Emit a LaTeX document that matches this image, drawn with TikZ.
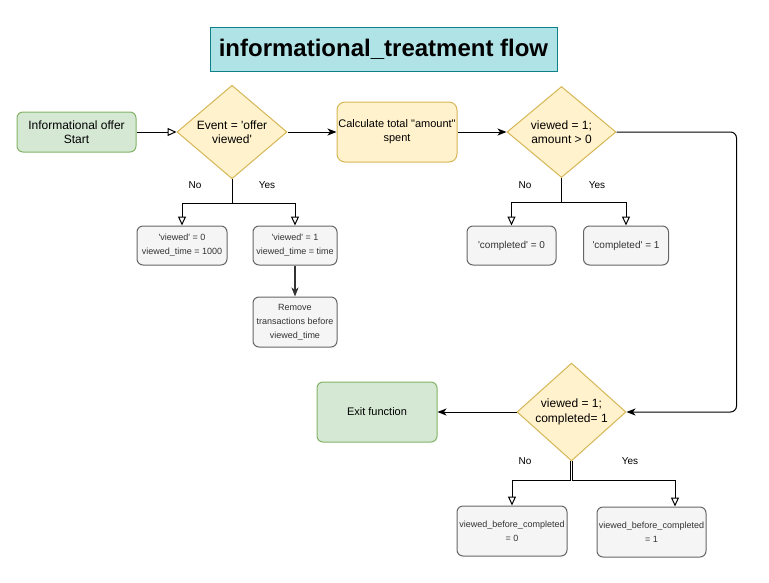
\documentclass[tikz,border=0pt]{standalone}
\usepackage{fontspec}
\setmainfont{Liberation Sans}[Ligatures=TeXOff]
\usetikzlibrary{arrows.meta,shapes.geometric}
\definecolor{greenfill}{HTML}{D5E8D4}
\definecolor{greenline}{HTML}{82B366}
\definecolor{yellowfill}{HTML}{FFF2CC}
\definecolor{yellowline}{HTML}{D6B656}
\definecolor{grayfill}{HTML}{F5F5F5}
\definecolor{grayline}{HTML}{666666}
\definecolor{graytext}{HTML}{333333}
\definecolor{titlefill}{HTML}{B0E3E6}
\definecolor{titleline}{HTML}{0E8088}
\begin{document}
\begin{tikzpicture}[x=1pt,y=-1pt,line width=1pt,
  greenbox/.style={draw=greenline,fill=greenfill,rounded corners=6pt,align=center,
    minimum width=120pt,font=\fontsize{12}{14.3}\selectfont},
  yellowbox/.style={draw=yellowline,fill=yellowfill,rounded corners=8pt,align=center,
    minimum width=120pt,minimum height=60pt,inner sep=1pt,font=\fontsize{11}{14.3}\selectfont},
  decision/.style={diamond,draw=yellowline,fill=yellowfill,align=center,inner sep=0pt,
    minimum width=109pt,minimum height=91pt,font=\fontsize{12}{14.3}\selectfont},
  graybox/.style={draw=grayline,fill=grayfill,text=graytext,rounded corners=6pt,align=center,
    minimum height=39pt,inner sep=1pt,font=\fontsize{9}{14}\selectfont},
  branch/.style={font=\fontsize{10}{12}\selectfont},
  openarrow/.style={-{Triangle[open,length=9pt,width=8pt]},fill=white},
  solidarrow/.style={-{Stealth[length=9pt,width=7pt,inset=2.5pt]}}]
\useasboundingbox (0,0) rectangle (769,582);

% title
\node[draw=titleline,fill=titlefill,minimum width=347pt,minimum height=44pt,
  font=\fontsize{24}{28}\bfseries] (title) at (383.5,49) {informational\_treatment flow};

% top row
\node[greenbox,minimum width=119pt,minimum height=40pt] (start) at (76.5,132) {Informational offer\\Start};
\node[decision,minimum width=110pt] (event) at (232,132) {Event = 'offer\\viewed'};
\node[yellowbox] (calc) at (397,132) {Calculate total "amount"\\spent};
\node[decision] (amount) at (561.5,132) {viewed = 1;\\amount {\textgreater} 0};

% viewed branches
\node[graybox,minimum width=90pt] (viewed0) at (182,245.5) {'viewed' = 0\\viewed\_time = 1000};
\node[graybox,minimum width=84pt] (viewed1) at (295,245.5) {'viewed' = 1\\viewed\_time = time};
\node[graybox,minimum width=84pt,minimum height=50pt] (remove) at (295,322)
  {Remove\\transactions before\\viewed\_time};
\node[branch] (eventno) at (195,185) {No};
\node[branch] (eventyes) at (267,185) {Yes};

% completed branches
\node[graybox,minimum width=89pt,font=\fontsize{10}{14}\selectfont] (completed0) at (511.5,245.5) {'completed' = 0};
\node[graybox,minimum width=85pt,font=\fontsize{10}{14}\selectfont] (completed1) at (626,245.5) {'completed' = 1};
\node[branch] (amountno) at (525,185) {No};
\node[branch] (amountyes) at (597,185) {Yes};

% bottom row
\node[greenbox,minimum height=60pt,font=\fontsize{11}{14.3}\selectfont] (exit) at (377,412) {Exit function};
\node[decision] (check) at (571.5,412) {viewed = 1;\\completed= 1};
\node[graybox,minimum width=110pt,minimum height=50pt] (before0) at (512,531) {viewed\_before\_completed\\= 0};
\node[graybox,minimum width=109pt,minimum height=50pt] (before1) at (651.5,532) {viewed\_before\_completed\\= 1};
\node[branch] (checkno) at (525,461) {No};
\node[branch] (checkyes) at (630,461) {Yes};

% connectors
\draw[openarrow] (start) -- (event);
\draw[solidarrow] (event) -- (calc);
\draw[solidarrow] (calc) -- (amount);
\draw[openarrow] (event.south) -- ++(0,24) -| (viewed0.north);
\draw[openarrow] (event.south) -- ++(0,24) -| (viewed1.north);
\draw[solidarrow,draw=black!80,line width=1.3pt] (viewed1) -- (remove);
\draw[openarrow] (amount.south) -- ++(0,24) -| (completed0.north);
\draw[openarrow] (amount.south) -- ++(0,24) -| (completed1.north);
\draw[solidarrow,rounded corners=6pt] (amount.east) -- ++(120,0) |- (check.east);
\draw[solidarrow] (check) -- (exit);
\draw[openarrow] ([xshift=-1pt]check.south) -- ++(0,19) -| (before0.north);
\draw[openarrow] ([xshift=1pt]check.south) -- ++(0,19) -| ([xshift=23.5pt]before1.north);
\end{tikzpicture}
\end{document}
